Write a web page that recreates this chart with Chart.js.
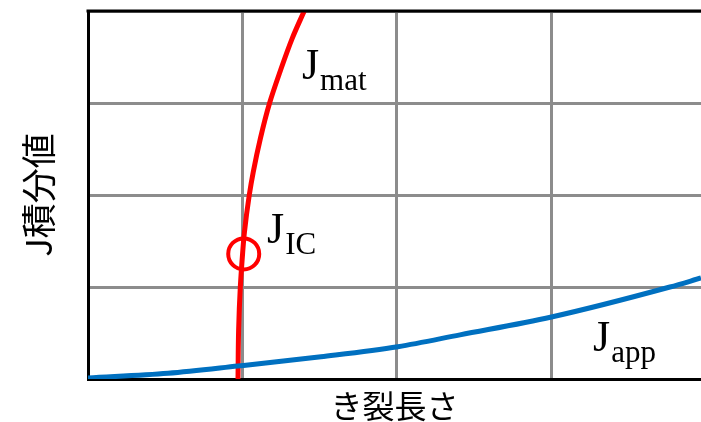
<!DOCTYPE html>
<html><head><meta charset="utf-8">
<script src="https://cdn.jsdelivr.net/npm/chart.js@4"></script>
<style>html,body{margin:0;padding:0;background:#fff;overflow:hidden}</style>
</head><body>
<canvas id="c" width="701" height="422"></canvas>
<script>
// J_app (applied J-integral) vs crack length
const appLength = [0, 0.518, 0.971, 1.508, 2.006, 2.408, 3, 3.767, 3.968];
const appJ      = [0.011, 0.062, 0.141, 0.242, 0.351, 0.48, 0.674, 1.0, 1.098];
// J_mat (material resistance curve)
const matLength = [0.971, 0.975, 0.986, 1.001, 1.012, 1.044, 1.070, 1.116, 1.175, 1.243, 1.322, 1.405];
const matJ      = [0, 0.533, 1.0, 1.37, 1.587, 2.0, 2.253, 2.616, 2.997, 3.340, 3.703, 4.02];
// J_IC point
const jicLength = [1.008];
const jicJ      = [1.36];
// Axis ranges / ticks
const xRange = [0, 3.968];
const yRange = [0, 4];
const gridStep = 1;
// Labels: [main, subscript, x, y (sub baseline)]
const curveLabels = [
  ['J', 'mat', 1.385, 3.14],
  ['J', 'IC',  1.159, 1.36],
  ['J', 'app', 3.269, 0.185]
];
const xTitle = 'き裂長さ';
const yTitle = 'J積分値';

const toPts = (xs, ys) => xs.map((x, i) => ({x, y: ys[i]}));

const labelPlugin = {
  id: 'labels',
  afterDatasetsDraw(chart) {
    const {ctx, chartArea, scales} = chart;
    ctx.save();
    // top frame line
    ctx.strokeStyle = '#000';
    ctx.lineWidth = 3;
    ctx.beginPath();
    ctx.moveTo(chartArea.left - 1.5, chartArea.top);
    ctx.lineTo(chartArea.right, chartArea.top);
    ctx.stroke();
    ctx.fillStyle = '#000';
    ctx.textBaseline = 'alphabetic';
    ctx.textAlign = 'left';
    for (const [m, s, x, y] of curveLabels) {
      const px = scales.x.getPixelForValue(x);
      const py = scales.y.getPixelForValue(y);
      ctx.font = '44px "Liberation Serif"';
      ctx.fillText(m, px, py - 11);
      const w = ctx.measureText(m).width;
      ctx.font = '31px "Liberation Serif"';
      ctx.fillText(s, px + w + 1, py);
    }
    ctx.restore();
  }
};

new Chart(document.getElementById('c'), {
  type: 'line',
  data: {
    datasets: [
      {
        data: toPts(appLength, appJ),
        borderColor: '#0070c0', borderWidth: 5, pointRadius: 0,
        cubicInterpolationMode: 'monotone', fill: false, clip: 0
      },
      {
        data: toPts(matLength, matJ),
        indexAxis: 'y',
        borderColor: '#ff0000', borderWidth: 5, pointRadius: 0,
        cubicInterpolationMode: 'monotone', fill: false, clip: 0
      },
      {
        data: toPts(jicLength, jicJ),
        showLine: false, pointRadius: 15.5, pointBorderWidth: 4,
        pointBorderColor: '#ff0000', pointBackgroundColor: 'rgba(0,0,0,0)', clip: false
      }
    ]
  },
  options: {
    responsive: false,
    animation: false,
    events: [],
    layout: {autoPadding: false, padding: {top: 11, right: 0, left: 0, bottom: 0}},
    plugins: {legend: {display: false}, tooltip: {enabled: false}},
    scales: {
      x: {
        type: 'linear', min: xRange[0], max: xRange[1],
        ticks: {display: false, stepSize: gridStep},
        afterBuildTicks: s => { s.ticks = s.ticks.filter(t => Number.isInteger(t.value)); },
        afterFit: s => { s.height = 43; },
        grid: {color: '#8c8c8c', lineWidth: 3, drawTicks: false},
        border: {display: true, color: '#000', width: 3},
        title: {display: true, text: xTitle, color: '#000',
                font: {family: '"Noto Sans CJK JP"', size: 32, lineHeight: 1}, padding: 0}
      },
      y: {
        type: 'linear', min: yRange[0], max: yRange[1],
        ticks: {display: false, stepSize: gridStep},
        afterFit: s => { s.width = 88; },
        grid: {color: '#8c8c8c', lineWidth: 3, drawTicks: false},
        border: {display: true, color: '#000', width: 3},
        title: {display: true, text: yTitle, color: '#000',
                font: {family: '"Noto Sans CJK JP"', size: 35, lineHeight: 1}, padding: {top: 21, bottom: 0}}
      }
    }
  },
  plugins: [labelPlugin]
});
</script>
</body></html>
